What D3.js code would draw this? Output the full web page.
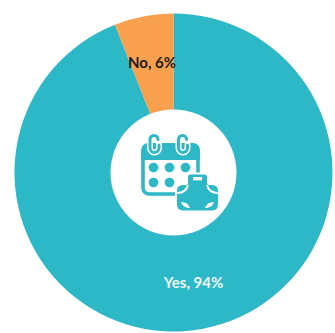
<!DOCTYPE html>
<html>
<head>
<meta charset="utf-8">
<script src="https://cdn.jsdelivr.net/npm/d3@7/dist/d3.min.js"></script>
<style>
html,body{margin:0;padding:0;background:#fff;}
svg{display:block;}
text{font-family:Lato,sans-serif;font-weight:700;}
</style>
</head>
<body>
<svg id="chart" width="335" height="333"></svg>
<script>
const categories = ["Yes", "No"];
const shares = [94, 6];
const sliceColors = ["#2db8c8", "#f9a04f"];
const labelColors = ["#eefafb", "#1c1c1c"];
const labelPositions = [[193.5, 283], [152, 63]];

const cx = 173.5, cy = 172.5, outer = 159, hole = 63;
const teal = sliceColors[0];

const svg = d3.select("#chart");
const color = d3.scaleOrdinal().domain(categories).range(sliceColors);

const pie = d3.pie().sort(null).value(d => d.value)
  .startAngle(0).endAngle(2 * Math.PI);
const arc = d3.arc().innerRadius(0).outerRadius(outer);

const rows = categories.map((c, i) => ({ name: c, value: shares[i] }));
const root = svg.append("g").attr("transform", `translate(${cx},${cy})`);

root.selectAll("path.slice")
  .data(pie(rows))
  .join("path")
  .attr("class", "slice")
  .attr("d", arc)
  .attr("fill", d => color(d.data.name));

// White disc that carries the pictogram
root.append("circle").attr("r", hole).attr("fill", "#fff");

// Calendar with suitcase pictogram
const icon = svg.append("g").attr("transform", "translate(110,110)");

// calendar body outline
icon.append("rect")
  .attr("x", 33).attr("y", 36).attr("width", 55).attr("height", 48).attr("rx", 6)
  .attr("fill", "#fff").attr("stroke", teal).attr("stroke-width", 3.6);
// calendar header band
icon.append("path")
  .attr("d", "M31.2 50 V40 a7 7 0 0 1 7-7 H83 a7 7 0 0 1 7 7 V50 Z")
  .attr("fill", teal);

// binder rings, each with a white halo over the header
[46, 74.5].forEach(x => {
  const hook = `M${x + 2} 29.5 a4 4 0 0 0 -8 0 V38 a4.5 4.5 0 0 0 9 0 V35`;
  icon.append("path").attr("d", hook)
    .attr("fill", "none").attr("stroke", "#fff").attr("stroke-width", 6).attr("stroke-linecap", "round");
  icon.append("path").attr("d", hook)
    .attr("fill", "none").attr("stroke", teal).attr("stroke-width", 3).attr("stroke-linecap", "round");
});

// date dots
[[43.5, 57.5], [59.5, 57.5], [75.5, 57.5], [43.5, 72.5], [59.5, 72.5]].forEach(([x, y]) => {
  icon.append("circle").attr("cx", x).attr("cy", y).attr("r", 4.8).attr("fill", teal);
});

// suitcase, ringed in white so it sits over the calendar
const caseBody = "M80 64.5 H95 Q97 64.5 97 67 V73 Q97 75 99 75 H102 Q108 75 108 81 V94 Q108 100.5 102 100.5 H73 Q67 100.5 67 94 V81 Q67 75 73 75 H76 Q78 75 78 73 V67 Q78 64.5 80 64.5 Z";
icon.append("path").attr("d", caseBody)
  .attr("fill", teal).attr("stroke", "#fff").attr("stroke-width", 4).attr("paint-order", "stroke");
icon.append("rect").attr("x", 83).attr("y", 67).attr("width", 9).attr("height", 3.4).attr("fill", "#fff");

// white straps across the upper corners and inset leaves at the lower ones
["M67 83 Q76 83 78 75", "M97 75 Q99 83 108 83"].forEach(d => {
  icon.append("path").attr("d", d).attr("fill", "none").attr("stroke", "#fff").attr("stroke-width", 2);
});
[
  "M71 92 Q78 92 80 98 Q73 98 71 92 Z",
  "M95 98 Q97 92 104 92 Q102 98 95 98 Z"
].forEach(d => icon.append("path").attr("d", d).attr("fill", "#fff"));

// Slice labels
svg.selectAll("text.label")
  .data(rows)
  .join("text")
  .attr("class", "label")
  .attr("x", (d, i) => labelPositions[i][0])
  .attr("y", (d, i) => labelPositions[i][1])
  .attr("dy", "0.35em")
  .attr("text-anchor", "middle")
  .attr("font-size", 15)
  .attr("fill", (d, i) => labelColors[i])
  .text(d => `${d.name}, ${d.value}%`);
</script>
</body>
</html>
